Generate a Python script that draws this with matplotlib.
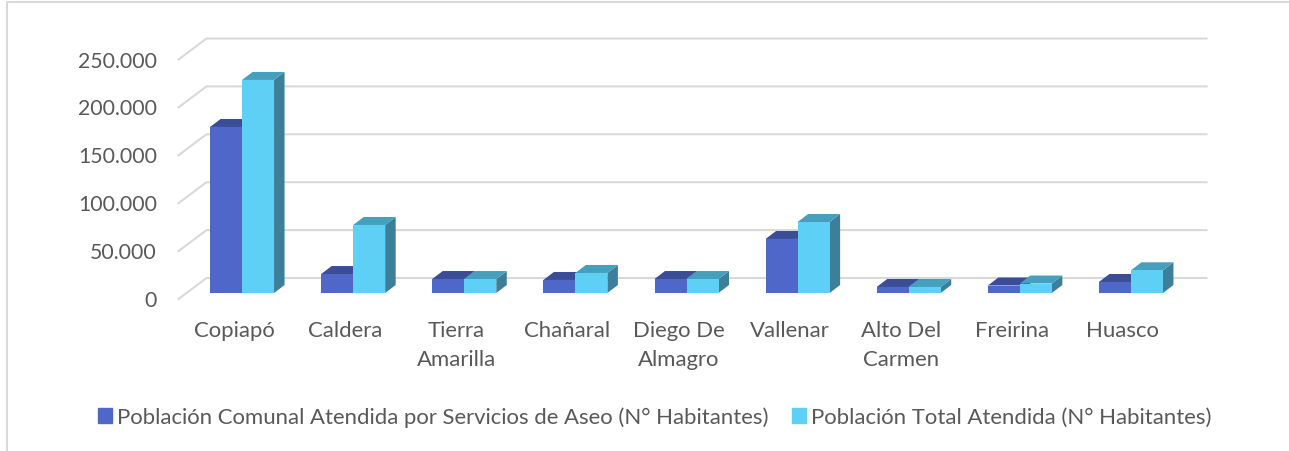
import matplotlib
matplotlib.use('Agg')
import matplotlib.pyplot as plt
from matplotlib.patches import Polygon, Patch
from matplotlib.transforms import ScaledTranslation

plt.rcParams['font.family'] = ['Lato', 'DejaVu Sans']

W = 1289
H = 452

comunas = ['Copiapó', 'Caldera', 'Tierra\nAmarilla', 'Chañaral', 'Diego De\nAlmagro',
           'Vallenar', 'Alto Del\nCarmen', 'Freirina', 'Huasco']
atendida = [173300, 19800, 14600, 13600, 14600, 56400, 6300, 7800, 11500]
total = [222400, 71000, 14600, 20900, 14600, 74100, 6300, 9900, 23700]
yticks = [0, 50000, 100000, 150000, 200000, 250000]
ylabels = ['0', '50.000', '100.000', '150.000', '200.000', '250.000']
serie1 = 'Población Comunal Atendida por Servicios de Aseo (N° Habitantes)'
serie2 = 'Población Total Atendida (N° Habitantes)'

GRAY = '#595959'
GRID = '#d9d9d9'

fig = plt.figure(figsize=(W / 100, H / 100), dpi=100)
# axes = plane of the bars' front faces, 186..1186 px and 0 at y=294
ax = fig.add_axes([186.5 / W, 1 - 294 / H, 1000 / W, 239.5 / H])
ax.set_xlim(-0.5, 8.5)
ax.set_ylim(0, 250000)
ax.axis('off')

# pixels to data units
px = 9 / 1000
py = 250000 / 239.5


def shift(x, y):
    return ax.transData + ScaledTranslation(x / 100, -y / 100, fig.dpi_scale_trans)


# back wall gridlines and the slanted floor/wall lines
for t in yticks:
    ax.plot([-0.5 - 8 * px, -0.5 + 20 * px, 8.5 + 20 * px],
            [t - 6 * py, t + 15 * py, t + 15 * py],
            color=GRID, lw=1.5, clip_on=False, zorder=1)


def bar3d(x0, x1, h, front, top, side):
    dx = 10.5 * px
    dy = 8 * py
    ax.add_patch(Polygon([(x1, 0), (x1 + dx, dy), (x1 + dx, h + dy), (x1, h)], color=side, lw=0, clip_on=False, zorder=3))
    ax.add_patch(Polygon([(x0, h), (x0 + dx, h + dy), (x1 + dx, h + dy), (x1, h)], color=top, lw=0, clip_on=False, zorder=3))
    ax.add_patch(Polygon([(x0, 0), (x1, 0), (x1, h), (x0, h)], color=front, lw=0, clip_on=False, zorder=3))


bw = 32 * px
for i in range(len(comunas)):
    bar3d(i - bw, i, atendida[i], '#4e67c8', '#3a4d96', '#3a4d96')
    bar3d(i, i + bw, total[i], '#5ecff5', '#479fbe', '#3b7f9b')

for t, lab in zip(yticks, ylabels):
    ax.text(-0.5 - 29.5 * px, t, lab, transform=shift(0, 7), ha='right', va='center',
            fontsize=15.3, color=GRAY)

for i, c in enumerate(comunas):
    ax.text(i - 8 * px, 0, c, transform=shift(0, 27), ha='center', va='top',
            fontsize=15.9, color=GRAY, linespacing=1.55)

leg = fig.legend(handles=[Patch(color='#4e67c8', label=serie1), Patch(color='#5ecff5', label=serie2)],
                 loc='center left', bbox_to_anchor=(98 / W, 1 - 418 / H), ncol=2, frameon=False,
                 fontsize=15.9, handlelength=0.63, handleheight=0.63, handletextpad=0.23,
                 columnspacing=1.08, labelcolor=GRAY, borderpad=0, borderaxespad=0)

# chart area border, left and top only
fig.add_artist(plt.Line2D([7 / W, 7 / W, 1], [0, 1 - 2.5 / H, 1 - 2.5 / H], color=GRID, lw=1.5))

fig.savefig('out.png', dpi=100)
